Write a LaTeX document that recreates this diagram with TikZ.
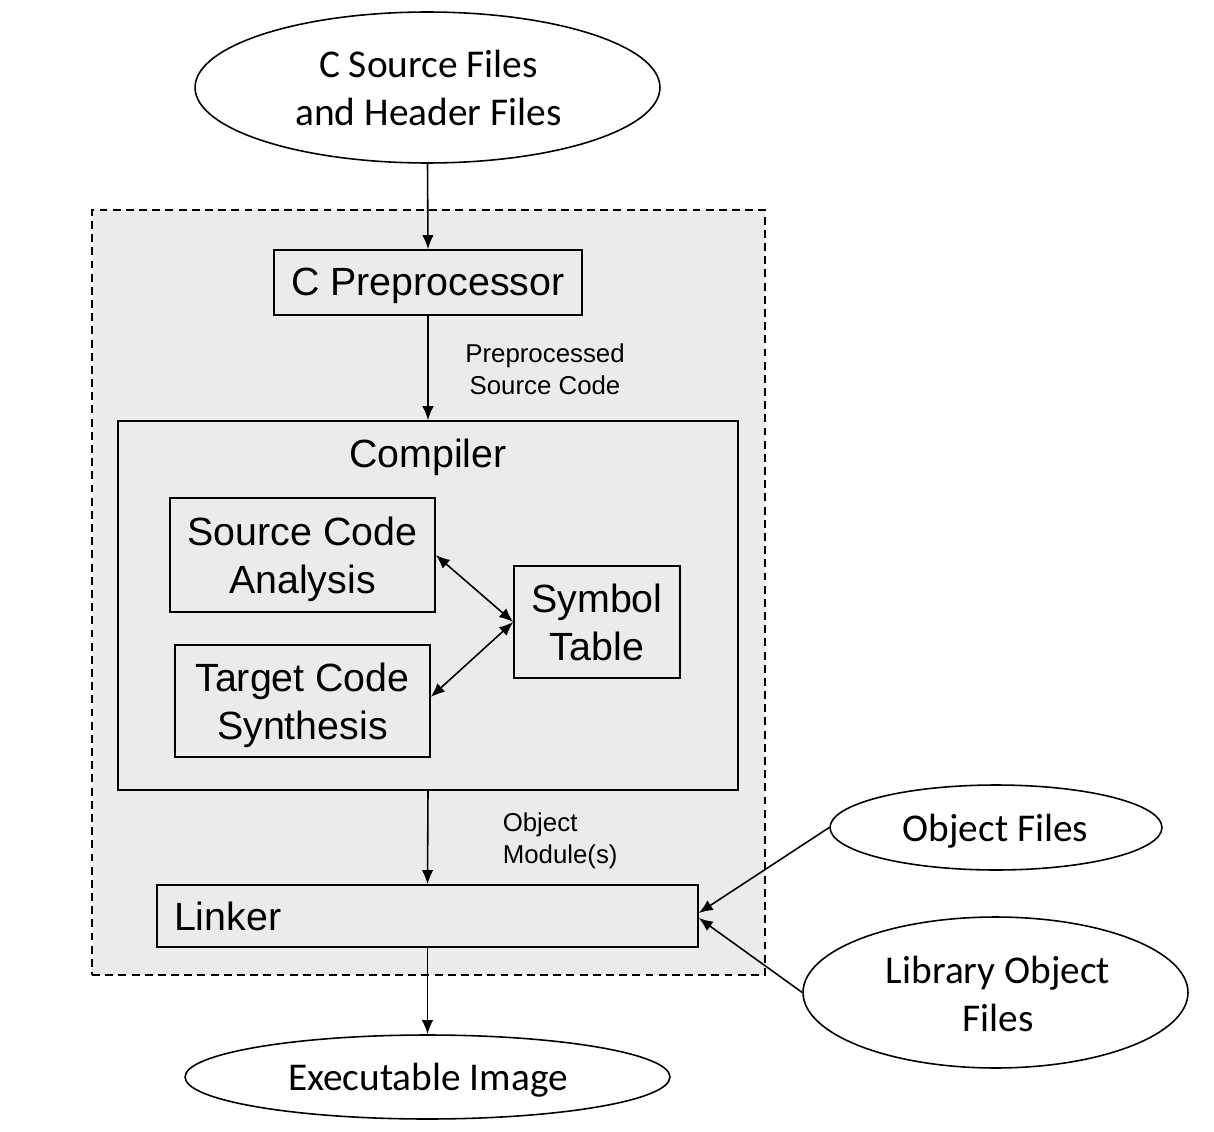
\documentclass[tikz,border=0pt]{standalone}
\usepackage{fontspec}
\newfontfamily\arialf{Liberation Sans}
\newfontfamily\calibrif{Carlito}
\usetikzlibrary{shapes.geometric,arrows.meta}
\definecolor{grpfill}{HTML}{EBEBEB}
\begin{document}
\begin{tikzpicture}[x=0.02cm,y=-0.02cm,
  line width=0.9pt,
  bigtxt/.style={font=\arialf\fontsize{22.4}{27.3}\selectfont},
  smalltxt/.style={font=\arialf\fontsize{14.7}{18.2}\selectfont},
  elltxt/.style={font=\calibrif\fontsize{22.4}{27.3}\selectfont, align=center, inner sep=0pt},
  boxtxt/.style={bigtxt, align=center, inner sep=0pt},
  boxnode/.style={draw, rectangle, inner sep=0pt},
  ellnode/.style={draw, ellipse, fill=white, inner sep=0pt},
  arr/.style={-{Latex[length=8pt,width=6.5pt]}},
  darr/.style={{Latex[length=8pt,width=6.5pt]}-{Latex[length=8pt,width=6.5pt]}}
]
\useasboundingbox (0,0) rectangle (1214,1132);
\fill[white] (0,0) rectangle (1214,1132);

% group
\node[draw, dash pattern=on 4.5pt off 3pt, fill=grpfill, minimum width=13.46cm, minimum height=15.3cm, inner sep=0pt] (grp) at (428.5,592.5) {};

% ellipses
\node[ellnode, minimum width=9.3cm, minimum height=3.02cm] (src) at (427.5,87.5) {};
\node[elltxt] (srct) at (428.5,88) {C Source Files\\and Header Files};
\node[ellnode, minimum width=6.64cm, minimum height=1.7cm] (obj) at (996,827.5) {};
\node[elltxt] (objt) at (995.5,831) {Object Files};
\node[ellnode, minimum width=7.7cm, minimum height=3.02cm] (lib) at (995.5,992.5) {};
\node[elltxt] (libt) at (998,994) {Library Object\\Files};
\node[ellnode, minimum width=9.7cm, minimum height=1.68cm] (exe) at (427.5,1077) {};
\node[elltxt] (exet) at (428,1080) {Executable Image};

% boxes
\node[boxnode, minimum width=6.16cm, minimum height=1.30cm] (pre) at (428,282.5) {};
\node[boxtxt] (pret) at (428,285.5) {C Preprocessor};
\node[boxnode, minimum width=12.4cm, minimum height=7.38cm] (comp) at (428,605.5) {};
\node[boxtxt] (compt) at (428,457) {Compiler};
\node[boxnode, minimum width=5.3cm, minimum height=2.28cm] (sca) at (302.5,555) {};
\node[boxtxt] (scat) at (302.5,559) {Source Code\\Analysis};
\node[boxnode, minimum width=5.1cm, minimum height=2.24cm] (tcs) at (302.5,701) {};
\node[boxtxt] (tcst) at (302.5,705) {Target Code\\Synthesis};
\node[boxnode, minimum width=3.32cm, minimum height=2.24cm] (sym) at (597,622) {};
\node[boxtxt] (symt) at (597,622) {Symbol\\Table};
\node[draw, rectangle, bigtxt, minimum width=10.82cm, minimum height=1.24cm, inner ysep=0pt, inner xsep=0.34cm, text width=10.14cm, align=left] (link) at (427.5,916) {Linker};

% labels
\node[smalltxt, align=center, inner sep=0pt] (lblpre) at (545,369) {Preprocessed\\Source Code};
\node[smalltxt, align=left, inner sep=0pt, anchor=west] (lblobj) at (502,841) {Object\\Module(s)};

% connectors
\draw[arr] (src.south) -- (pre.north);
\draw[arr] (pre.south) -- (comp.north);
\draw[arr] (comp.south) -- (link.north);
\draw[arr] (link.south) -- (exe.north);
\draw[darr] (sca.east) -- (sym.west);
\draw[darr] ([yshift=0.08cm]tcs.east) -- (sym.west);
\draw[arr] (obj.west) -- ([yshift=0.06cm]link.east);
\draw[arr] (lib.west) -- ([yshift=-0.04cm]link.east);
\end{tikzpicture}
\end{document}
